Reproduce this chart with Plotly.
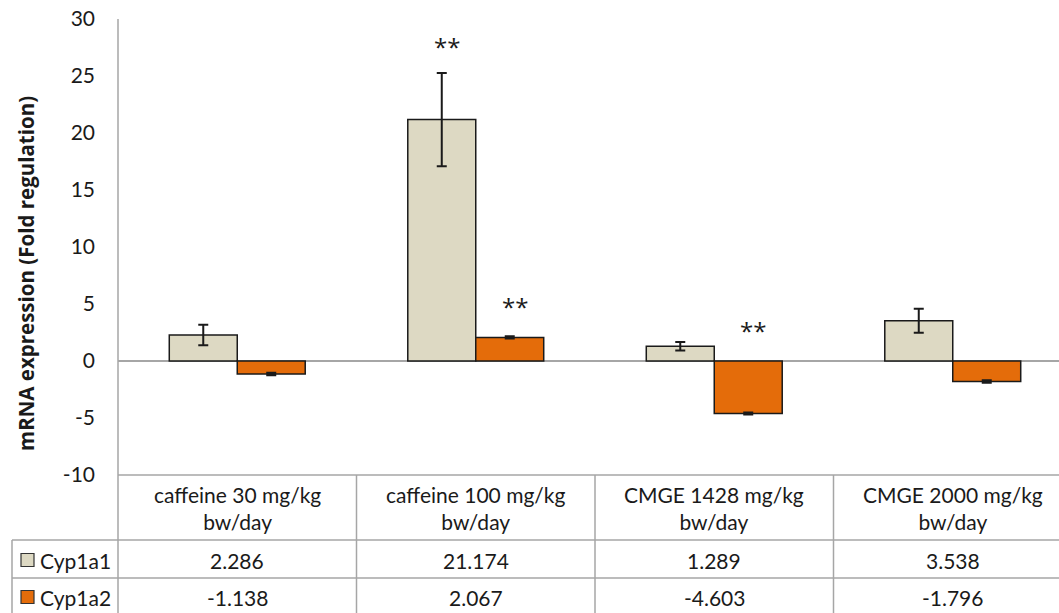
import plotly.graph_objects as go

# ---------------- data ----------------
categories = ["caffeine 30 mg/kg bw/day", "caffeine 100 mg/kg bw/day",
              "CMGE 1428 mg/kg bw/day", "CMGE 2000 mg/kg bw/day"]
series_names = ["Cyp1a1", "Cyp1a2"]
cyp1a1 = [2.286, 21.174, 1.289, 3.538]
cyp1a2 = [-1.138, 2.067, -4.603, -1.796]
cyp1a1_err = [0.90, 4.10, 0.37, 1.05]
cyp1a2_err = [0.06, 0.06, 0.04, 0.06]
# significance marks: (category index, series index, label)
significance = [(1, 0, "**"), (1, 1, "**"), (2, 1, "**")]
y_tickvals = [-10, -5, 0, 5, 10, 15, 20, 25, 30]
y_ticktext = ["-10", "-5", "0", "5", "10", "15", "20", "25", "30"]
y_title = "mRNA expression (Fold regulation)"

colors = ["#DDD9C3", "#E46C0A"]
grid_col = "#A6A6A6"
FONT = "Lato"

W, H = 1059, 613
L, R, T, B = 118, 0, 19, 138
plot_h = H - T - B
plot_w = W - L - R
cat_px = 238.5

def py(Y):  # pixel y -> paper y
    return (H - B - Y) / plot_h

def px(X):  # pixel x -> paper x
    return (X - L) / plot_w

xidx = list(range(len(categories)))
values = [cyp1a1, cyp1a2]
errors = [cyp1a1_err, cyp1a2_err]

fig = go.Figure()
for i, name in enumerate(series_names):
    fig.add_trace(go.Bar(
        x=xidx, y=values[i], name=name,
        marker=dict(color=colors[i], line=dict(color="#1a1a1a", width=1.5)),
        error_y=dict(type="data", array=errors[i], color="#1a1a1a",
                     thickness=2 if i == 0 else 3, width=5),
        showlegend=False,
    ))

bargap = 0.43
half = (1 - bargap) / 4

# significance asterisks
for ci, si, lab in significance:
    top = max(values[si][ci] + errors[si][ci], 0)
    fig.add_annotation(x=ci + (-half if si == 0 else half) + 0.02, y=top,
                       xref="x", yref="y", text=lab, showarrow=False,
                       xanchor="center", yanchor="bottom", yshift=8 if si == 0 else 12,
                       font=dict(family="Open Sans", size=24, color="#1a1a1a"))

shapes = []
# y axis line extending through table
shapes.append(dict(type="line", xref="paper", yref="paper", x0=0, x1=0,
                   y0=1, y1=py(H), line=dict(color=grid_col, width=1.5)))
# top of table
shapes.append(dict(type="line", xref="paper", yref="paper", x0=0, x1=1,
                   y0=0, y1=0, line=dict(color=grid_col, width=1.5)))
for Y in (540, 578):
    shapes.append(dict(type="line", xref="paper", yref="paper", x0=px(12), x1=1,
                       y0=py(Y), y1=py(Y), line=dict(color=grid_col, width=1.5)))
shapes.append(dict(type="line", xref="paper", yref="paper", x0=px(12), x1=px(12),
                   y0=py(540), y1=py(H), line=dict(color=grid_col, width=1.5)))
for k in range(1, len(categories)):
    shapes.append(dict(type="line", xref="x", yref="paper", x0=k - 0.5, x1=k - 0.5,
                       y0=0, y1=py(H), line=dict(color=grid_col, width=1.5)))
# legend swatches
for i, Yc in enumerate((560, 597)):
    shapes.append(dict(type="rect", xref="paper", yref="paper",
                       x0=px(21), x1=px(34), y0=py(Yc - 6.5), y1=py(Yc + 6.5),
                       fillcolor=colors[i], line=dict(color="#333333", width=1.2)))
fig.update_layout(shapes=shapes)

# table text
TFS = 21
for ci, cat in enumerate(categories):
    parts = cat.split(" ")
    label = " ".join(parts[:-1]) + "<br>" + parts[-1]
    fig.add_annotation(x=ci, y=py(507.5), xref="x", yref="paper", text=label,
                       showarrow=False, xanchor="center", yanchor="middle",
                       font=dict(family=FONT, size=TFS, color="#1a1a1a"))
    for i, Yc in enumerate((560, 597)):
        fig.add_annotation(x=ci, y=py(Yc), xref="x", yref="paper",
                           text=f"{values[i][ci]:.3f}", showarrow=False,
                           xanchor="center", yanchor="middle",
                           font=dict(family=FONT, size=TFS, color="#1a1a1a"))
for i, Yc in enumerate((560, 597)):
    fig.add_annotation(x=px(38), y=py(Yc), xref="paper", yref="paper",
                       text=series_names[i], showarrow=False, xanchor="left",
                       yanchor="middle",
                       font=dict(family=FONT, size=TFS, color="#1a1a1a"))

# y title
fig.add_annotation(x=px(26), y=py(274), xref="paper", yref="paper", text=f"<b>{y_title}</b>",
                   textangle=-90, showarrow=False, xanchor="center", yanchor="middle",
                   font=dict(family="Open Sans", size=20.5, color="#1a1a1a"))

fig.update_layout(
    width=W, height=H,
    margin=dict(l=L, r=R, t=T, b=B),
    paper_bgcolor="white", plot_bgcolor="white",
    barmode="group", bargap=bargap, bargroupgap=0,
    xaxis=dict(range=[-0.5, -0.5 + plot_w / cat_px], showticklabels=False,
               showgrid=False, zeroline=False, showline=False, fixedrange=True),
    yaxis=dict(range=[-10, 30], tickvals=y_tickvals, ticktext=y_ticktext,
               showgrid=False, zeroline=True, zerolinecolor=grid_col, zerolinewidth=1.5,
               showline=False, ticks="", ticklabelstandoff=22,
               tickfont=dict(family=FONT, size=21, color="#1a1a1a")),
    font=dict(family=FONT),
)

fig.write_html("out.html", config={"displayModeBar": False},
               post_script="document.body.style.margin='0';document.body.style.overflow='hidden';")
